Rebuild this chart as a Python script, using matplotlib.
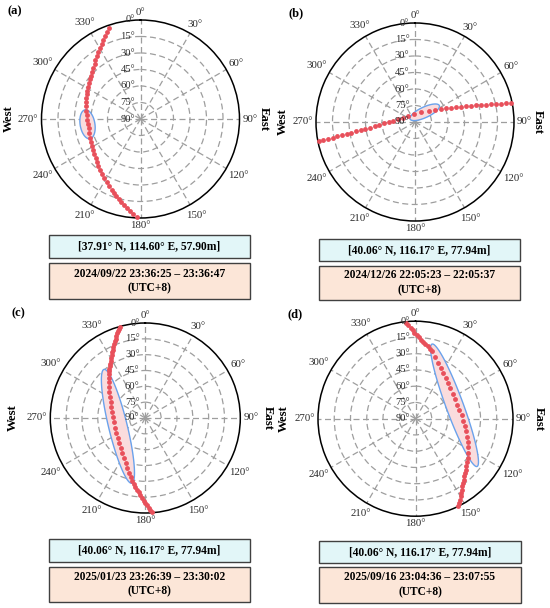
import numpy as np
import matplotlib
matplotlib.use("Agg")
import matplotlib.pyplot as plt
from matplotlib.patches import Rectangle
from matplotlib.transforms import ScaledTranslation

plt.rcParams['font.family'] = ['Liberation Serif', 'DejaVu Serif']

# ---------------- data ----------------
az_ticks = [0, 30, 60, 90, 120, 150, 180, 210, 240, 270, 300, 330]
az_tick_labels = [f"{a}°" for a in az_ticks]
el_ticks = [0, 15, 30, 45, 60, 75, 90]
el_tick_labels = [f"{e}°" for e in el_ticks]

az_a = [340.9, 338.9, 336.8, 334.8, 332.8, 330.3, 327.8, 325.3, 322.8, 320.3,
        317.2, 314.1, 311.0, 307.9, 304.8, 301.4, 298.0, 294.5, 291.1, 287.7,
        283.2, 278.7, 274.2, 269.4, 264.6, 259.8, 254.8, 249.7, 244.7, 240.7,
        236.8, 232.8, 228.8, 225.3, 221.7, 218.2, 214.7, 211.5, 208.2, 205.0,
        201.8, 199.6, 197.5, 195.3, 193.2, 191.0, 188.8, 186.6, 184.5, 182.3]
el_a = [2.1, 4.8, 7.6, 10.3, 13.0, 15.3, 17.6, 20.0, 22.3, 24.6,
        26.3, 28.0, 29.8, 31.5, 33.2, 34.2, 35.2, 36.2, 37.2, 38.2,
        39.1, 39.9, 40.8, 41.3, 41.8, 42.3, 41.7, 41.0, 40.4, 39.2,
        38.0, 36.9, 35.7, 34.0, 32.3, 30.5, 28.8, 26.7, 24.7, 22.6,
        20.5, 18.5, 16.5, 14.4, 12.4, 10.4, 7.9, 5.4, 3.0, 0.5]

az_b = [258.8, 259.0, 259.2, 259.3, 259.5, 259.9, 260.2, 260.5, 261.0, 261.5,
        262.2, 263.0, 264.1, 265.5, 267.5, 270.0, 273.5, 279.5, 289.4, 309.3,
        352.6, 33.7, 50.7, 58.8, 63.4, 66.2, 68.3, 70.2, 71.6, 72.8,
        73.8, 74.6, 75.5, 76.2, 76.9, 77.4, 77.9, 78.4, 78.8]
el_b = [0.7, 5.1, 9.5, 13.8, 18.2, 22.6, 27.0, 31.3, 35.7, 40.1,
        44.4, 48.8, 53.1, 57.5, 61.8, 66.1, 70.3, 74.3, 78.1, 81.4,
        83.0, 79.6, 74.0, 68.4, 63.9, 59.5, 55.1, 50.7, 46.3, 41.8,
        37.3, 32.8, 28.3, 23.9, 19.4, 14.9, 10.4, 5.8, 1.3]

az_c = [344.5, 343.5, 342.6, 341.6, 340.5, 339.5, 338.4, 337.2, 335.9, 334.7,
        333.3, 331.9, 330.5, 328.9, 327.2, 325.6, 323.9, 322.2, 320.5,
        317.5, 314.5, 310.0, 305.6, 300.2, 294.8, 287.8, 279.7, 271.2, 262.1,
        252.2, 242.6, 233.7, 225.7, 219.3, 213.7, 208.3, 203.6, 199.6, 196.2,
        193.9, 191.9,
        190.1, 188.4, 186.6, 185.2, 183.8, 182.4, 181.2, 180.1, 178.9, 177.9,
        176.9, 175.9]
el_c = [0.5, 2.0, 3.6, 5.1, 7.4, 9.6, 11.9, 14.1, 16.2, 18.4,
        20.5, 22.6, 24.7, 26.7, 28.7, 30.7, 32.4, 34.2, 35.9,
        38.6, 41.3, 44.5, 47.7, 50.8, 53.8, 56.3, 58.3, 59.5, 60.0,
        60.0, 59.1, 57.7, 55.6, 53.1, 50.1, 47.0, 43.5, 39.7, 35.7,
        32.2, 28.7,
        26.4, 24.0, 21.7, 19.2, 16.6, 14.1, 11.8, 9.6, 7.3, 5.1,
        2.9, 0.7]

az_d = [354.4, 355.6, 356.9, 358.1, 359.3, 0.9, 2.4, 4.0, 5.5, 7.6, 9.7, 11.8,
        13.9, 17.7, 22.2, 26.4, 31.2, 36.4, 42.2, 49.0, 56.3, 63.8, 71.4,
        78.8, 85.9, 92.4, 98.5, 104.1, 109.2, 114.1, 118.6, 122.9, 126.9,
        130.1, 133.3, 135.5, 137.8, 140.0, 141.8, 143.6, 145.4, 146.9, 148.4,
        149.9, 151.3, 152.6, 154.0]
el_d = [1.1, 3.5, 6.0, 8.4, 10.8, 12.8, 14.8, 16.8, 18.8, 20.6, 22.3, 24.1,
        25.9, 30.3, 34.4, 37.7, 40.6, 43.3, 45.5, 47.5, 48.9, 49.5, 49.4,
        48.7, 47.4, 45.9, 43.9, 41.9, 39.4, 37.2, 34.6, 32.2, 29.5,
        27.6, 25.7, 23.9, 22.2, 20.4, 18.3, 16.1, 14.0, 11.7, 9.3,
        7.0, 4.8, 2.5, 0.3]

# ellipse: centre azimuth, centre elevation, semi-major, semi-minor (deg of zenith), bearing of major axis
ell_a = (264.3, 41.6, 13.3, 6.7, 350.5)
ell_b = (45.0, 77.5, 14.6, 4.8, 65.0)
ell_c = (253.1, 62.9, 55.5, 8.8, 346.3)
ell_d = (71.0, 51.9, 60.2, 8.0, 339.8)

panel_labels = ["(a)", "(b)", "(c)", "(d)"]
loc_texts = ["[37.91° N, 114.60° E, 57.90m]",
             "[40.06° N, 116.17° E, 77.94m]",
             "[40.06° N, 116.17° E, 77.94m]",
             "[40.06° N, 116.17° E, 77.94m]"]
time_texts = ["2024/09/22 23:36:25 – 23:36:47\n(UTC+8)",
              "2024/12/26 22:05:23 – 22:05:37\n(UTC+8)",
              "2025/01/23 23:26:39 – 23:30:02\n(UTC+8)",
              "2025/09/16 23:04:36 – 23:07:55\n(UTC+8)"]

# ---------------- layout (pixels) ----------------
W, H = 550, 608
centers = [(140.5, 119.0, 99.0), (415.0, 122.0, 99.0),
           (145.3, 418.0, 95.0), (415.5, 418.7, 97.5)]
label_pos = [(14.5, 11.0), (295.8, 13.3), (18.8, 313.3), (295.0, 314.5)]
cyan_boxes = [(49, 235, 250, 258), (319, 239, 520, 261),
              (49.3, 539, 250, 561.7), (319.3, 540.7, 520.7, 563.3)]
peach_boxes = [(49, 263, 250, 299), (319, 265.7, 520, 300),
               (49.3, 566.7, 250, 601.7), (319.3, 566.7, 520.7, 602.7)]

DOT = '#e8505b'
EDGE = '#6aa2ec'
FILL = '#fadcdd'
GRID = '#9e9e9e'
TXT = '#2b2b2b'
LABEL_GAP = 3.0  # px between circle and nearest edge of an azimuth label

fig = plt.figure(figsize=(W / 100, H / 100), dpi=100)


def fx(x):
    return x / W


def fy(y):
    return 1 - y / H


def ellipse_outline(c_az, c_el, a, b, bearing, n=240):
    t = np.linspace(0, 2 * np.pi, n)
    zc = 90 - c_el
    cx, cy = zc * np.sin(np.deg2rad(c_az)), zc * np.cos(np.deg2rad(c_az))
    ux, uy = np.sin(np.deg2rad(bearing)), np.cos(np.deg2rad(bearing))
    vx, vy = uy, -ux
    x = cx + a * np.cos(t) * ux + b * np.sin(t) * vx
    y = cy + a * np.cos(t) * uy + b * np.sin(t) * vy
    return np.unwrap(np.arctan2(x, y)), np.hypot(x, y)


series = [(az_a, el_a, ell_a), (az_b, el_b, ell_b),
          (az_c, el_c, ell_c), (az_d, el_d, ell_d)]

az_label_artists = []

for i, ((az, el, ell), (cx, cy, R)) in enumerate(zip(series, centers)):
    ax = fig.add_axes([fx(cx - R), fy(cy + R), 2 * R / W, 2 * R / H],
                      projection='polar')
    ax.set_theta_zero_location('N')
    ax.set_theta_direction(-1)
    ax.set_ylim(0, 90)
    ax.set_axisbelow(True)
    ax.set_yticks([15, 30, 45, 60, 75])
    ax.set_yticklabels([])
    ax.set_xticks(np.deg2rad(az_ticks))
    ax.set_xticklabels([])
    ax.tick_params(axis='both', length=0)
    ax.grid(True, color=GRID, lw=0.9, linestyle=(0, (4.8, 2.8)))
    ax.spines['polar'].set_linewidth(1.1)
    ax.spines['polar'].set_color('black')

    for a, lab in zip(az_ticks, az_tick_labels):
        t = ax.text(np.deg2rad(a), 90, lab, ha='center', va='center',
                    fontsize=7.8, color=TXT, clip_on=False)
        az_label_artists.append((ax, a, t))

    off = ScaledTranslation(-4 / 72, 0, fig.dpi_scale_trans)
    for e, lab in zip(el_ticks, el_tick_labels):
        ax.text(0, 90 - e, lab, ha='right', va='center', fontsize=7.6,
                color=TXT, transform=ax.transData + off, zorder=4)

    th, r = ellipse_outline(*ell)
    ax.fill(th, r, facecolor=FILL, edgecolor=EDGE, lw=1.0, zorder=2)

    ax.plot(np.deg2rad(az), 90 - np.array(el), 'o', ms=3.5, color=DOT,
            mec='none', zorder=3, clip_on=False)

    fig.text(fx(cx - 132), fy(cy), "West", rotation=90, ha='center',
             va='center', fontsize=9.2, fontweight='bold')
    fig.text(fx(cx + 123), fy(cy), "East", rotation=270, ha='center',
             va='center', fontsize=9.2, fontweight='bold')

    lx, ly = label_pos[i]
    fig.text(fx(lx), fy(ly), panel_labels[i], ha='center', va='center',
             fontsize=9, fontweight='bold')

    for (x0, y0, x1, y1), face, txt in ((cyan_boxes[i], '#e2f6f8', loc_texts[i]),
                                        (peach_boxes[i], '#fce6d8', time_texts[i])):
        fig.add_artist(Rectangle((fx(x0), fy(y1)), (x1 - x0) / W, (y1 - y0) / H,
                                 transform=fig.transFigure, facecolor=face,
                                 edgecolor='#404040', lw=1.0))
        fig.text(fx((x0 + x1) / 2), fy((y0 + y1) / 2), txt, ha='center',
                 va='center', fontsize=8.3, fontweight='bold',
                 linespacing=1.3)

# push each azimuth label outward so its nearest edge sits LABEL_GAP px off the circle
fig.canvas.draw()
renderer = fig.canvas.get_renderer()
for ax, a, t in az_label_artists:
    bb = t.get_window_extent(renderer)
    hw, hh = bb.width / 2, bb.height / 2
    s, c = np.sin(np.deg2rad(a)), np.cos(np.deg2rad(a))
    d = LABEL_GAP + hw * abs(s) + hh * abs(c)
    t.set_transform(ax.transData + ScaledTranslation(d * s / 100, d * c / 100,
                                                     fig.dpi_scale_trans))

fig.savefig("out.png", dpi=100)
